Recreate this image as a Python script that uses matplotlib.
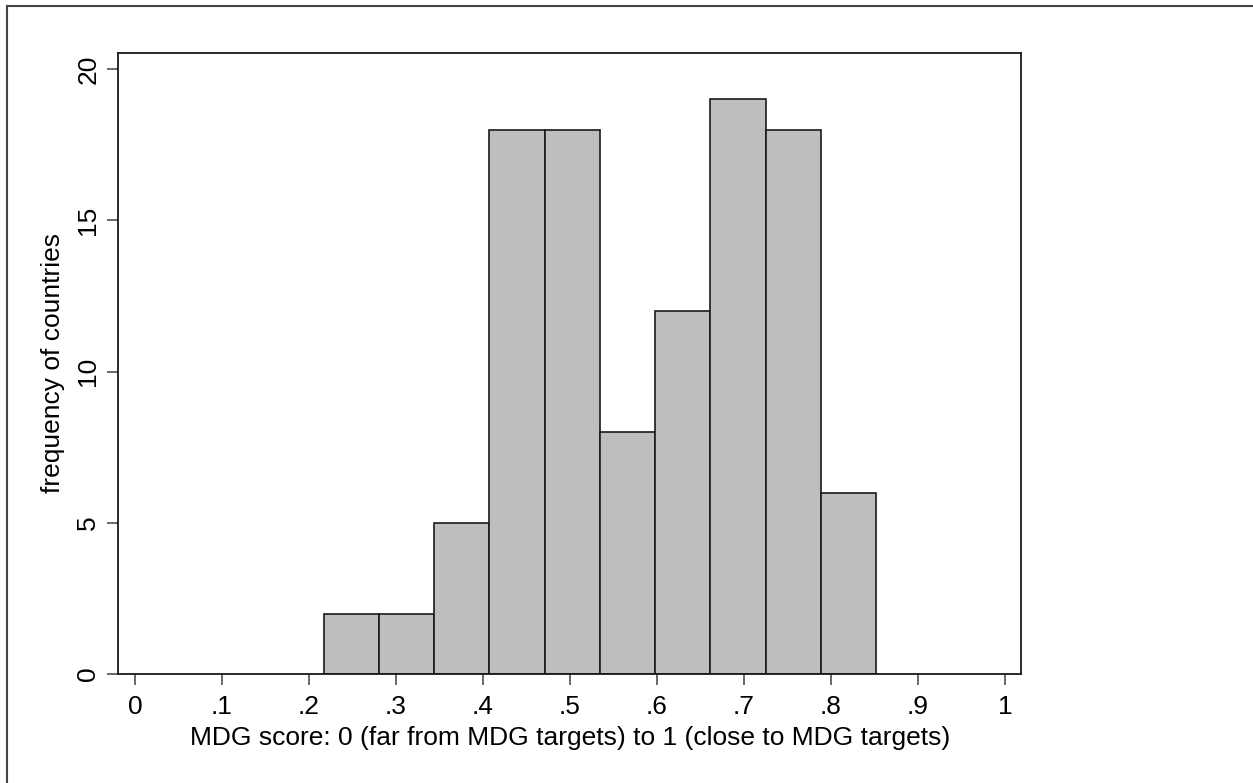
import numpy as np
import matplotlib
matplotlib.use("Agg")
import matplotlib.pyplot as plt
from matplotlib.lines import Line2D

# histogram of MDG scores (Stata-style)
counts = [2, 2, 5, 18, 18, 8, 12, 19, 18, 6]
bin_start = 0.2167
bin_width = 0.0635
x_ticks = [0, 0.1, 0.2, 0.3, 0.4, 0.5, 0.6, 0.7, 0.8, 0.9, 1.0]
x_ticklabels = ["0", ".1", ".2", ".3", ".4", ".5", ".6", ".7", ".8", ".9", "1"]
y_ticks = [0, 5, 10, 15, 20]

plt.rcParams["font.family"] = ["Liberation Sans", "DejaVu Sans"]

fig = plt.figure(figsize=(12.53, 7.83), dpi=100)
ax = fig.add_axes([0.0944, 0.1392, 0.7207, 0.7935])

edges = bin_start + bin_width * np.arange(len(counts) + 1)
ax.hist(edges[:-1] + bin_width / 2, bins=edges, weights=counts,
        color="#bebebe", edgecolor="#1a1a1a", linewidth=1.2)

ax.set_xlim(-0.0192, 1.0187)
ax.set_ylim(0, 20.54)
ax.set_xticks(x_ticks)
ax.set_xticklabels(x_ticklabels)
ax.set_yticks(y_ticks)
ax.set_yticklabels([str(v) for v in y_ticks], rotation=90, va="center")
ax.tick_params(axis="both", length=8, width=1.1, color="#404040", labelsize=19)
ax.tick_params(axis="x", pad=7)
ax.tick_params(axis="y", pad=5)
for s in ax.spines.values():
    s.set_linewidth(1.3)
    s.set_color("#1a1a1a")

ax.set_xlabel("MDG score: 0 (far from MDG targets) to 1 (close to MDG targets)",
              fontsize=19, labelpad=5)
ax.set_ylabel("frequency of countries", fontsize=19, labelpad=8)

# outer frame of the graph region
fig.add_artist(Line2D([7 / 1253, 7 / 1253], [0, 1 - 6 / 783],
                      transform=fig.transFigure, color="#444444", lw=1.5))
fig.add_artist(Line2D([7 / 1253, 1], [1 - 6 / 783, 1 - 6 / 783],
                      transform=fig.transFigure, color="#444444", lw=1.5))

fig.savefig("out.png", dpi=100)
